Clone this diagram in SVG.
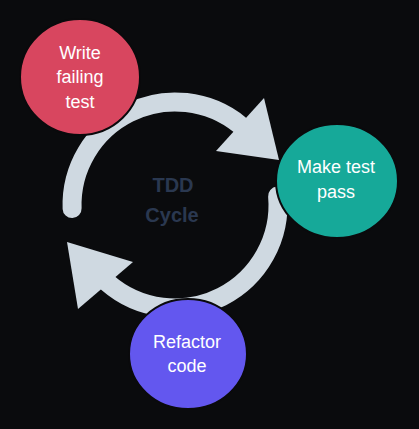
<svg xmlns="http://www.w3.org/2000/svg" width="419" height="429" viewBox="0 0 419 429">
<style>
.arc{fill:none;stroke:#cfd9e1;stroke-width:19;stroke-linecap:round}
.head{fill:#cfd9e1}
.node{stroke:#0a0a0c;stroke-width:2}
.lbl{font-family:"Liberation Sans",Arial,sans-serif;font-size:18px;fill:#ffffff;text-anchor:middle}
.center{font-family:"Liberation Sans",Arial,sans-serif;font-size:20px;font-weight:bold;fill:#2a3850;text-anchor:middle}
</style>
<rect width="419" height="429" fill="#0a0b0d"/>
<g id="connectors">
<path class="arc" d="M72.1,208.6 A103,103 0 0 1 240,125"/>
<polygon class="head" points="264,98 279,160 216,151"/>
<path class="arc" d="M277.6,196 A103,103 0 0 1 107.4,282.7"/>
<polygon class="head" points="67,242 133,262 78,309"/>
</g>
<g id="center-label">
<text class="center" x="173" y="192">TDD</text>
<text class="center" x="172" y="222">Cycle</text>
</g>
<g id="write">
<ellipse class="node" cx="80" cy="77" rx="60" ry="58" fill="#d8465f"/>
<text class="lbl" x="80" y="59">Write</text>
<text class="lbl" x="80" y="83">failing</text>
<text class="lbl" x="80" y="108">test</text>
</g>
<g id="pass">
<ellipse class="node" cx="337" cy="181" rx="61" ry="57" fill="#16a999"/>
<text class="lbl" x="336" y="173">Make test</text>
<text class="lbl" x="336" y="198">pass</text>
</g>
<g id="refactor">
<ellipse class="node" cx="188" cy="354" rx="59" ry="55" fill="#6357ef"/>
<text class="lbl" x="187" y="348">Refactor</text>
<text class="lbl" x="187" y="372">code</text>
</g>
</svg>
